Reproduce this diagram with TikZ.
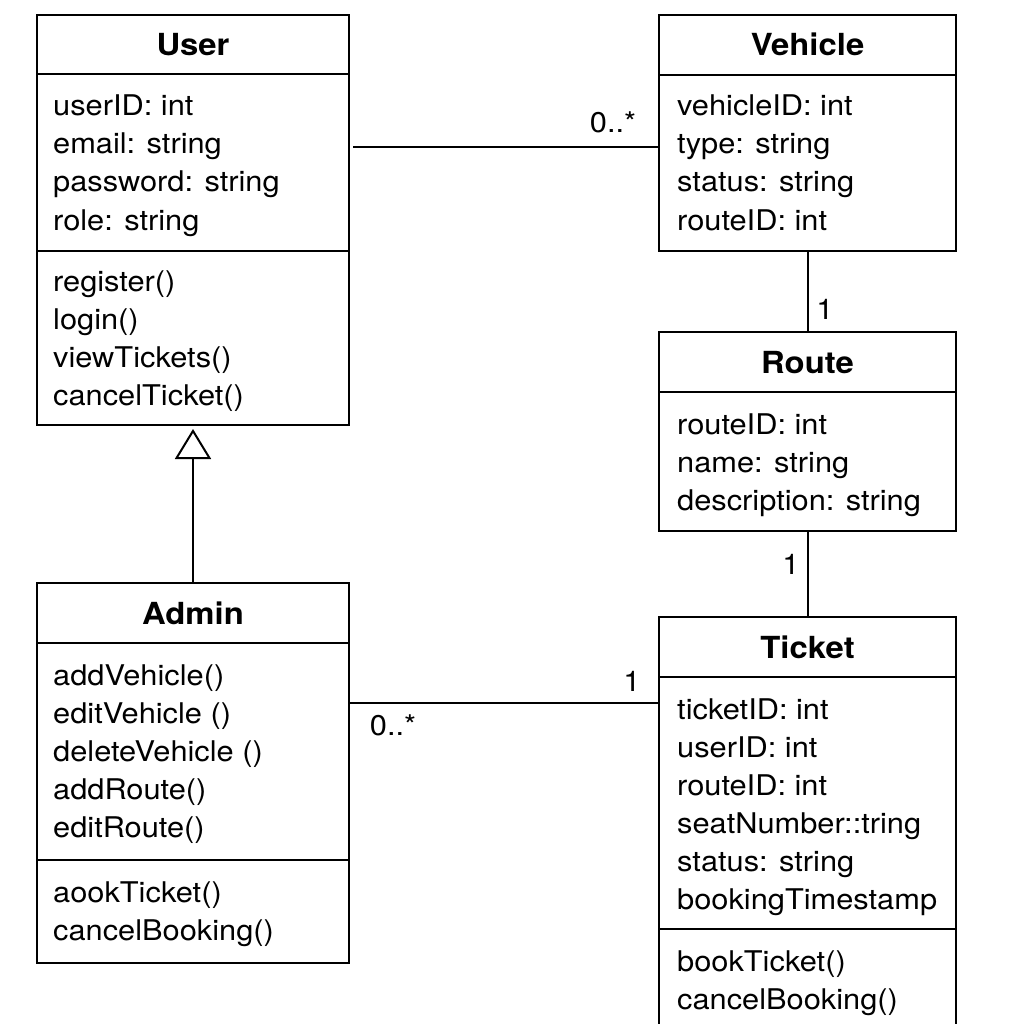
\documentclass[tikz,border=0pt]{standalone}
\usepackage{fontspec}
\setmainfont{TeX Gyre Heros}[FakeStretch=1.08]
\usetikzlibrary{arrows.meta,positioning}

\begin{document}
\begin{tikzpicture}[x=1pt, y=-1pt,
    classbox/.style={draw, line width=2pt, inner sep=0pt},
    title/.style={font=\fontsize{30.4}{38}\bfseries, anchor=base, inner sep=0pt},
    member/.style={font=\fontsize{28.5}{38}\selectfont, anchor=base west, inner sep=0pt},
    mult/.style={font=\fontsize{28.5}{38}\selectfont, anchor=base, inner sep=0pt},
    link/.style={line width=2pt}]
    \path[use as bounding box, clip] (0,0) rectangle (1024,1024);

    % Class boxes
    \node[classbox, minimum width=312, minimum height=410] (user) at (193,220) {};
    \node[classbox, minimum width=297, minimum height=236] (vehicle) at (807.5,133) {};
    \node[classbox, minimum width=297, minimum height=199] (route) at (807.5,431.5) {};
    \node[classbox, minimum width=297, minimum height=423] (ticket) at (807.5,828.5) {};
    \node[classbox, minimum width=312, minimum height=380] (admin) at (193,773) {};

    % Compartment lines
    \draw[link] (user.west |- 0,74) -- (user.east |- 0,74);
    \draw[link] (user.west |- 0,251) -- (user.east |- 0,251);
    \draw[link] (vehicle.west |- 0,75) -- (vehicle.east |- 0,75);
    \draw[link] (route.west |- 0,392) -- (route.east |- 0,392);
    \draw[link] (ticket.west |- 0,677) -- (ticket.east |- 0,677);
    \draw[link] (ticket.west |- 0,929) -- (ticket.east |- 0,929);
    \draw[link] (admin.west |- 0,643) -- (admin.east |- 0,643);
    \draw[link] (admin.west |- 0,860) -- (admin.east |- 0,860);

    % Class names
    \node[title] (user-name) at (193,56) {User};
    \node[title] (vehicle-name) at (807.5,56) {Vehicle};
    \node[title] (route-name) at (807.5,373) {Route};
    \node[title] (ticket-name) at (807.5,658) {Ticket};
    \node[title] (admin-name) at (193,624) {Admin};

    % Members
    \foreach \t [count=\i] in {userID: int, email: string, password: string, role: string}
        \node[member] (user-a\i) at (53,78+38*\i) {\t};
    \foreach \t [count=\i] in {register(), login(), viewTickets(), cancelTicket()}
        \node[member] (user-m\i) at (53,253+38*\i) {\t};
    \foreach \t [count=\i] in {vehicleID: int, type: string, status: string, routeID: int}
        \node[member] (vehicle-a\i) at (677,78+38*\i) {\t};
    \foreach \t [count=\i] in {routeID: int, name: string, description: string}
        \node[member] (route-a\i) at (677,396+38*\i) {\t};
    \foreach \t [count=\i] in {ticketID: int, userID: int, routeID: int, seatNumber::tring, status: string, bookingTimestamp}
        \node[member] (ticket-a\i) at (677,681+38*\i) {\t};
    \foreach \t [count=\i] in {bookTicket(), cancelBooking()}
        \node[member] (ticket-m\i) at (677,933+38*\i) {\t};
    \foreach \t [count=\i] in {addVehicle(), editVehicle (), deleteVehicle (), addRoute(), editRoute()}
        \node[member] (admin-a\i) at (53,647+38*\i) {\t};
    \foreach \t [count=\i] in {aookTicket(), cancelBooking()}
        \node[member] (admin-m\i) at (53,864+38*\i) {\t};

    % Associations
    \draw[link, shorten <=3pt] (user.east |- 0,147) -- (vehicle.west |- 0,147);
    \draw[link] (vehicle.south) -- (route.north);
    \draw[link] (route.south) -- (ticket.north);
    \draw[link] (admin.east |- 0,703) -- (ticket.west |- 0,703);
    \draw[link, -{Triangle[open, width=36pt, length=30pt]}, shorten >=3pt] (admin.north) -- (user.south);

    % Multiplicities
    \node[mult] (m-uv) at (613,133) {0..*};
    \node[mult] (m-vr) at (825,319) {1};
    \node[mult] (m-rt) at (791,574) {1};
    \node[mult] (m-at) at (632,691) {1};
    \node[mult] (m-ta) at (393,735) {0..*};
\end{tikzpicture}
\end{document}
